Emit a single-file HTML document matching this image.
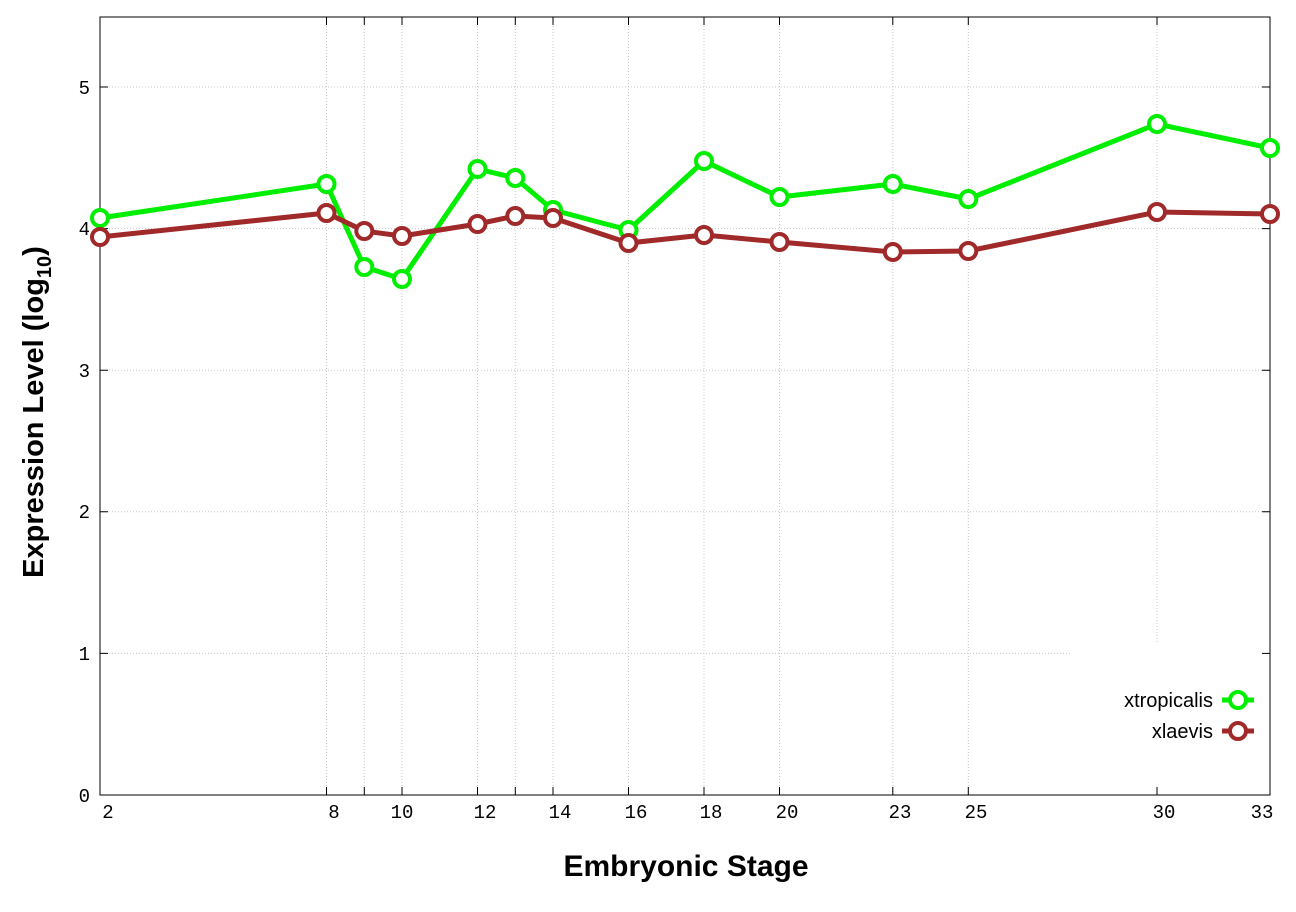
<!DOCTYPE html>
<html><head><style>body{margin:0;background:#fff}</style></head><body>
<svg width="1296" height="907" xmlns="http://www.w3.org/2000/svg">
<rect width="1296" height="907" fill="#fff"/>
<g stroke="#c8c8c8" stroke-width="1" stroke-dasharray="1,2">
<line x1="100" x2="1270" y1="653.4" y2="653.4"/>
<line x1="100" x2="1270" y1="511.8" y2="511.8"/>
<line x1="100" x2="1270" y1="370.2" y2="370.2"/>
<line x1="100" x2="1270" y1="228.6" y2="228.6"/>
<line x1="100" x2="1270" y1="87" y2="87"/>
<line y1="17" y2="795" x1="326.5" x2="326.5"/>
<line y1="17" y2="795" x1="364.3" x2="364.3"/>
<line y1="17" y2="795" x1="402" x2="402"/>
<line y1="17" y2="795" x1="477.5" x2="477.5"/>
<line y1="17" y2="795" x1="515.3" x2="515.3"/>
<line y1="17" y2="795" x1="553" x2="553"/>
<line y1="17" y2="795" x1="628.5" x2="628.5"/>
<line y1="17" y2="795" x1="704" x2="704"/>
<line y1="17" y2="795" x1="779.5" x2="779.5"/>
<line y1="17" y2="795" x1="892.8" x2="892.8"/>
<line y1="17" y2="795" x1="968.3" x2="968.3"/>
<line y1="17" y2="795" x1="1157" x2="1157"/>
</g>
<rect x="1072" y="642" width="197" height="152" fill="#fff"/>
<rect x="100" y="17" width="1170" height="778" fill="none" stroke="#000" stroke-width="1"/>
<g stroke="#000" stroke-width="1">
<path d="M100 653.4h8M100 511.8h8M100 370.2h8M100 228.6h8M100 87h8M1270 653.4h-8M1270 511.8h-8M1270 370.2h-8M1270 228.6h-8M1270 87h-8"/>
<path d="M326.5 795v-8M364.3 795v-8M402 795v-8M477.5 795v-8M515.3 795v-8M553 795v-8M628.5 795v-8M704 795v-8M779.5 795v-8M892.8 795v-8M968.3 795v-8M1157 795v-8M326.5 17v8M364.3 17v8M402 17v8M477.5 17v8M515.3 17v8M553 17v8M628.5 17v8M704 17v8M779.5 17v8M892.8 17v8M968.3 17v8M1157 17v8"/>
</g>
<g font-family="Liberation Mono, monospace" font-size="19" fill="#000">
<g text-anchor="end">
<text x="90" y="802">0</text><text x="90" y="660">1</text><text x="90" y="518">2</text><text x="90" y="377">3</text><text x="90" y="235">4</text><text x="90" y="94">5</text>
</g>
<g text-anchor="middle">
<text x="108" y="818">2</text><text x="334" y="818">8</text><text x="402" y="818">10</text><text x="485" y="818">12</text><text x="560" y="818">14</text><text x="636" y="818">16</text><text x="711" y="818">18</text><text x="787" y="818">20</text><text x="900" y="818">23</text><text x="976" y="818">25</text><text x="1164" y="818">30</text><text x="1262" y="818">33</text>
</g>
</g>
<text x="686" y="876" text-anchor="middle" font-family="Liberation Sans, sans-serif" font-weight="bold" font-size="30">Embryonic Stage</text>
<text transform="translate(43,412) rotate(-90)" text-anchor="middle" font-family="Liberation Sans, sans-serif" font-weight="bold" font-size="29">Expression Level (log<tspan font-size="20" dy="8">10</tspan><tspan dy="-8">)</tspan></text>
<g fill="none" stroke-width="5" stroke-linejoin="round">
<polyline stroke="#00ee00" points="100,218 326.5,184 364.3,267 402,279 477.5,169 515.3,178 553,210 628.5,230 704,161 779.5,197 892.8,184 968.3,199 1157,124 1270,148"/>
<polyline stroke="#a0292a" points="100,237 326.5,213 364.3,231 402,236 477.5,224 515.3,216 553,218 628.5,243 704,235 779.5,242 892.8,252 968.3,251 1157,212 1270,214"/>
</g>
<g fill="#fff" stroke="#00ee00" stroke-width="4">
<circle cx="100" cy="218" r="8"/><circle cx="326.5" cy="184" r="8"/><circle cx="364.3" cy="267" r="8"/><circle cx="402" cy="279" r="8"/><circle cx="477.5" cy="169" r="8"/><circle cx="515.3" cy="178" r="8"/><circle cx="553" cy="210" r="8"/><circle cx="628.5" cy="230" r="8"/><circle cx="704" cy="161" r="8"/><circle cx="779.5" cy="197" r="8"/><circle cx="892.8" cy="184" r="8"/><circle cx="968.3" cy="199" r="8"/><circle cx="1157" cy="124" r="8"/><circle cx="1270" cy="148" r="8"/>
</g>
<g fill="#fff" stroke="#a0292a" stroke-width="4">
<circle cx="100" cy="237" r="8"/><circle cx="326.5" cy="213" r="8"/><circle cx="364.3" cy="231" r="8"/><circle cx="402" cy="236" r="8"/><circle cx="477.5" cy="224" r="8"/><circle cx="515.3" cy="216" r="8"/><circle cx="553" cy="218" r="8"/><circle cx="628.5" cy="243" r="8"/><circle cx="704" cy="235" r="8"/><circle cx="779.5" cy="242" r="8"/><circle cx="892.8" cy="252" r="8"/><circle cx="968.3" cy="251" r="8"/><circle cx="1157" cy="212" r="8"/><circle cx="1270" cy="214" r="8"/>
</g>
<g font-family="Liberation Sans, sans-serif" font-size="20" text-anchor="end">
<text x="1213" y="707">xtropicalis</text><text x="1213" y="738">xlaevis</text>
</g>
<line x1="1222" x2="1254" y1="700" y2="700" stroke="#00ee00" stroke-width="5"/>
<circle cx="1238" cy="700" r="8" fill="#fff" stroke="#00ee00" stroke-width="4"/>
<line x1="1222" x2="1254" y1="731" y2="731" stroke="#a0292a" stroke-width="5"/>
<circle cx="1238" cy="731" r="8" fill="#fff" stroke="#a0292a" stroke-width="4"/>
</svg>
</body></html>
